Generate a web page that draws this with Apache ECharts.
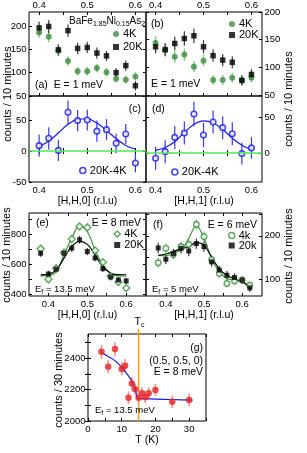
<!DOCTYPE html>
<html><head><meta charset="utf-8">
<script src="https://cdn.jsdelivr.net/npm/echarts@6/dist/echarts.min.js"></script>
<style>html,body{margin:0;padding:0;background:#fff}#c{width:307px;height:453px}</style>
</head><body><div id="c"></div>
<script>
// ---------- data ----------
const H_ab = [0.40,0.42,0.44,0.46,0.48,0.50,0.52,0.54,0.56,0.58,0.60];
const a_4K      = [186,177,147,125,103,103,110,101,87,85,92];
const a_4K_err  = [11,12,11,10,9,9,9,9,8,8,9];
const a_20K     = [196,199,149,190,152,154,142,136,100,115,72];
const a_20K_err = [13,14,12,13,12,12,12,11,10,11,10];
const b_4K      = [144,131,119,123,101,112,77,77,81,77,81];
const b_4K_err  = [12,11,11,11,10,10,9,9,9,9,9];
const b_20K     = [137,132,143,152,157,137,121,113,109,76,87];
const b_20K_err = [12,12,12,13,13,12,11,11,11,9,10];
const c_diff    = [8.6,20.5,1,62.4,49,50,32,34.4,12.4,27.4,-19.4];
const c_err     = [18,18,17,19,17,17,17,17,16,16,15];
const c_fit     = [7,16,29,43,51,52,45,33,20,9,3];
const d_diff    = [-7,2.2,22,28,54.6,25.4,43.5,35.6,27.2,-0.5,7.4];
const d_err     = [16,16,16,16,17,17,16,16,16,15,15];
const d_fit     = [4,8,16,29,40,45,42,33,21,11,5];

const H_e = [0.38,0.40,0.42,0.44,0.46,0.48,0.50,0.52,0.54,0.56,0.58,0.60];
const e_4K      = [702,500,573,677,767,851,844,691,613,520,482,442];
const e_20K     = [673,535,567,673,707,762,684,642,571,515,495,489];
const e_4K_err  = [24,22,22,24,25,26,26,24,23,22,21,20];
const e_20K_err = [24,22,22,24,24,26,24,23,22,22,21,21];
const e_fit4K   = [522,524,551,662,773,855,817,695,595,540,522,520];
const e_fit20K  = [529,532,562,640,718,752,732,662,584,540,531,530];

const H_f = [0.38,0.40,0.42,0.44,0.46,0.48,0.50,0.52,0.54,0.56,0.58,0.60,0.62];
const f_4K      = [138,171,157,175,180,226,198,145,113,90,96,98,86];
const f_20K     = [172,146,159,171,165,182,175,140,121,109,104,98,80];
const f_4K_err  = [11,11,11,11,12,12,12,11,10,9,9,9,9];
const f_20K_err = [12,11,11,12,12,12,12,11,10,10,10,9,9];
const f_fit4K   = [155,154,161,167,194,223,194,148,117,102,98,94,84];
const f_fit20K  = [155,158,164,170,175,184,178,151,124,109,101,94,82];

const T_g   = [4,6,8,10,11,12,13,14,15,16,17,18,20,25,30];
const g_I   = [2442,2346,2459,2332,2353,2149,2240,2202,2149,2177,2151,2177,2198,2123,2134];
const g_err = [45,42,45,42,42,40,40,38,38,38,38,38,40,40,42];
const T_fit = [4,6,8,10,12,13,14,14.6,15,20,25,31];
const g_fit = [2437,2412,2385,2342,2288,2255,2205,2150,2144,2140,2137,2133];
const Tc = [15];

// tick values
const tickH   = [0.4,0.45,0.5,0.55,0.6];
const labH    = [0.4,0.5,0.6];
const tickT   = [0,5,10,15,20,25,30,35];
const labT    = [0,10,20,30];

// ---------- style ----------
const FONT = 'Liberation Sans, Arial, sans-serif';
const G = '#3d8d3d', G_ERR = '#8cc88c', G_LINE = '#3a9a3a';
const K_ERR = '#3a3a3a';
const BLUE = '#1a1aee', BLUE_ERR = '#3a3af5';
const LIME = '#50e850';
const RED = '#e82020', RED_ERR = '#f39595';
const ORANGE = '#ff9a00';

const gridsPos = [
  {left:29, top:11, width:117, height:85},
  {left:146, top:11, width:116, height:85},
  {left:29, top:96, width:117, height:86},
  {left:146, top:96, width:116, height:86},
  {left:29, top:213, width:117, height:83},
  {left:146, top:213, width:116, height:83},
  {left:88, top:334, width:118, height:87}
];
const specs = [
  {x:[0.379,0.622], xt:tickH, xl:labH, top:true, y:[50,230], yt:[50,100,150,200], yl:[50,100,150,200], left:true},
  {x:[0.38,0.622], xt:tickH, xl:labH, top:true, y:[48,200], yt:[50,100,150,200], yl:[50,100,150,200], right:true},
  {x:[0.379,0.622], xt:tickH, xl:labH, bottom:true, name:'[H,H,0] (r.l.u)', y:[-50,88.7], yt:[-50,0,50], yl:[-50,0,50], left:true},
  {x:[0.38,0.622], xt:tickH, xl:labH, bottom:true, name:'[H,H,1] (r.l.u)', y:[-40,79.6], yt:[0,50], yl:[0,50], right:true},
  {x:[0.35,0.651], xt:tickH, xl:labH, bottom:true, name:'[H,H,0] (r.l.u)', y:[389,940], yt:[400,500,600,700,800,900], yl:[400,600,800], left:true},
  {x:[0.348,0.652], xt:tickH, xl:labH, bottom:true, name:'[H,H,1] (r.l.u)', y:[61.4,252.4], yt:[100,150,200,250], yl:[100,200], right:true},
  {x:[0,35], xt:tickT, xl:labT, bottom:true, name:'T (K)', y:[2000,2555], yt:[2000,2100,2200,2300,2400,2500], yl:[2000,2200,2400], left:true}
];
const fmt = v => String(Math.round(v*1000)/1000);

const xAxes = [], yAxes = [];
specs.forEach((s,i)=>{
  ['bottom','top'].forEach(pos=>{
    const show = pos==='bottom' ? !!s.bottom : !!s.top;
    xAxes.push({type:'value', gridIndex:i, position:pos, min:s.x[0], max:s.x[1],
      axisLine:{show:false}, splitLine:{show:false},
      axisTick:{show:true, inside:true, length:3, customValues:s.xt, lineStyle:{color:'#000', width:1}},
      axisLabel:{show:show, customValues:s.xl, formatter:fmt, fontSize:9.5, fontFamily:FONT, color:'#000', margin: pos==='top'?2:3},
      name:(pos==='bottom' && s.name)? s.name : '', nameLocation:'middle', nameGap: i===6?10:13,
      nameTextStyle:{fontSize:10.5, fontFamily:FONT, color:'#000'}});
  });
  ['left','right'].forEach(pos=>{
    const show = pos==='left' ? !!s.left : !!s.right;
    yAxes.push({type:'value', gridIndex:i, position:pos, min:s.y[0], max:s.y[1],
      axisLine:{show:false}, splitLine:{show:false},
      axisTick:{show:true, inside:true, length:3, customValues:s.yt, lineStyle:{color:'#000', width:1}},
      axisLabel:{show:show, customValues:s.yl, formatter:fmt, fontSize:9.5, fontFamily:FONT, color:'#000', margin:2.5}});
  });
});

const series = [];
function errBars(i, xs, ys, es, color, lw){
  series.push({type:'custom', xAxisIndex:2*i, yAxisIndex:2*i, silent:true, z:1,
    data: xs.map((x,k)=>[x, ys[k]-es[k], ys[k]+es[k]]),
    encode:{x:0, y:[1,2]},
    renderItem(p, api){
      const lo = api.coord([api.value(0), api.value(1)]);
      const hi = api.coord([api.value(0), api.value(2)]);
      return {type:'line', shape:{x1:lo[0], y1:lo[1], x2:hi[0], y2:hi[1]}, style:{stroke:color, lineWidth:lw}};
    }});
}
function pts(i, name, xs, ys, symbol, size, itemStyle){
  series.push({type:'scatter', name, xAxisIndex:2*i, yAxisIndex:2*i, silent:true, z:3,
    data: xs.map((x,k)=>[x, ys[k]]), symbol, symbolSize:size, itemStyle});
}
function fit(i, xs, ys, color, extra){
  series.push(Object.assign({type:'line', xAxisIndex:2*i, yAxisIndex:2*i, silent:true, z:2,
    data: xs.map((x,k)=>[x, ys[k]]), smooth:0.4, showSymbol:false, symbol:'none',
    lineStyle:{color, width:1.2}}, extra||{}));
}
const zeroLine = {markLine:{silent:true, symbol:'none', label:{show:false}, animation:false,
  lineStyle:{color:LIME, width:1.5, type:'solid'}, data:[{yAxis:0}]}};

// (a)
errBars(0, H_ab, a_4K, a_4K_err, G_ERR, 1.5);
errBars(0, H_ab, a_20K, a_20K_err, K_ERR, 1.2);
pts(0, '4K', H_ab, a_4K, 'circle', 6, {color:G});
pts(0, '20K', H_ab, a_20K, 'rect', 5.5, {color:'#000'});
// (b)
errBars(1, H_ab, b_4K, b_4K_err, G_ERR, 1.5);
errBars(1, H_ab, b_20K, b_20K_err, K_ERR, 1.2);
pts(1, '4K', H_ab, b_4K, 'circle', 6, {color:G});
pts(1, '20K', H_ab, b_20K, 'rect', 5.5, {color:'#000'});
// (c)
fit(2, H_ab, c_fit, BLUE, zeroLine);
errBars(2, H_ab, c_diff, c_err, BLUE_ERR, 1.2);
pts(2, '20K-4K', H_ab, c_diff, 'circle', 5.5, {color:'#fff', borderColor:BLUE, borderWidth:1.6});
// (d)
fit(3, H_ab, d_fit, BLUE, zeroLine);
errBars(3, H_ab, d_diff, d_err, BLUE_ERR, 1.2);
pts(3, '20K-4K', H_ab, d_diff, 'circle', 5.5, {color:'#fff', borderColor:BLUE, borderWidth:1.6});
// (e)
errBars(4, H_e, e_4K, e_4K_err, G_ERR, 1.5);
errBars(4, H_e, e_20K, e_20K_err, K_ERR, 1.2);
fit(4, H_e, e_fit4K, G_LINE);
fit(4, H_e, e_fit20K, '#000');
pts(4, '4K', H_e, e_4K, 'diamond', 7, {color:'#fff', borderColor:G, borderWidth:1.4});
pts(4, '20K', H_e, e_20K, 'rect', 5, {color:'#000'});
// (f)
errBars(5, H_f, f_4K, f_4K_err, G_ERR, 1.5);
errBars(5, H_f, f_20K, f_20K_err, K_ERR, 1.2);
fit(5, H_f, f_fit4K, G_LINE);
fit(5, H_f, f_fit20K, '#000');
pts(5, '4k', H_f, f_4K, 'circle', 5.5, {color:'#fff', borderColor:G, borderWidth:1.4});
pts(5, '20k', H_f, f_20K, 'rect', 5, {color:'#000'});
// (g)
const gY = specs[6].y;
series.push({type:'custom', xAxisIndex:12, yAxisIndex:12, silent:true, clip:false, z:1,
  data: Tc.map(t=>[t]), encode:{x:0},
  renderItem(p, api){
    const b = api.coord([api.value(0), gY[0]]);
    const t = api.coord([api.value(0), gY[1]]);
    return {type:'group', children:[
      {type:'line', shape:{x1:b[0], y1:b[1], x2:t[0], y2:t[1]-5}, style:{stroke:ORANGE, lineWidth:1.5}},
      {type:'text', x:t[0]+1, y:t[1]-12, style:{text:'T{s|c}', fontSize:10.5, fontFamily:FONT, fill:'#000',
        align:'center', verticalAlign:'middle', lineHeight:13,
        rich:{s:{fontSize:7, lineHeight:7, fontFamily:FONT, fill:'#000', verticalAlign:'bottom'}}}}
    ]};
  }});
errBars(6, T_g, g_I, g_err, RED_ERR, 1.6);
fit(6, T_fit, g_fit, BLUE, {smooth:0.3});
pts(6, 'g', T_g, g_I, 'circle', 6.5, {color:RED});

// ---------- text ----------
const RICH = {
  s:{fontSize:7, lineHeight:7, fontFamily:FONT, fill:'#000', verticalAlign:'bottom'}
};
function txt(x, y, text, o){
  o = o||{};
  return {type:'text', x, y, silent:true, rotation:o.rot||0, z:50,
    style:{text, fontSize:o.size||10.5, fontFamily:FONT, fill:'#000',
      align:o.align||'left', verticalAlign:'middle', lineHeight:o.lh||13, rich:RICH}};
}
const graphic = [
  txt(69, 21, 'BaFe{s|1.85}Ni{s|0.15}As{s|2}', {size:10}),
  txt(35, 85, '(a)  E = 1 meV'),
  txt(151, 24, '(b)'),
  txt(151, 84, 'E = 1 meV'),
  txt(141, 109, '(c)', {align:'right'}),
  txt(152, 109, '(d)'),
  txt(36, 223, '(e)'),
  txt(141, 223, 'E = 8 meV', {align:'right'}),
  txt(35, 289, 'E{s|f} = 13.5 meV', {size:9.5}),
  txt(153, 225, '(f)'),
  txt(257, 225, 'E = 6 meV', {align:'right'}),
  txt(152, 289, 'E{s|f} = 5 meV', {size:9.5}),
  txt(203, 348, '(g)', {align:'right'}),
  txt(203, 361, '(0.5, 0.5, 0)', {align:'right'}),
  txt(203, 372, 'E = 8 meV', {align:'right'}),
  txt(95, 410, 'E{s|f} = 13.5 meV', {size:9.5}),
  txt(8, 94, 'counts / 10 minutes', {align:'center', rot:Math.PI/2, size:11}),
  txt(288.5, 99, 'counts / 10 minutes', {align:'center', rot:Math.PI/2, size:11}),
  txt(7, 255, 'counts / 10 minutes', {align:'center', rot:Math.PI/2, size:11}),
  txt(289, 256, 'counts / 10 minutes', {align:'center', rot:Math.PI/2, size:11}),
  txt(59, 380, 'counts / 30 minutes', {align:'center', rot:Math.PI/2, size:11})
];

function lg(left, top, items, gap){
  return {left, top, orient:'vertical', padding:0, itemGap:gap, itemWidth:6, itemHeight:6,
    selectedMode:false, textStyle:{fontSize:11, lineHeight:11, fontFamily:FONT, color:'#000', padding:[0,0,0,-1]},
    data:items};
}
const legend = [
  lg(113, 28.5, [{name:'4K', icon:'circle', itemStyle:{color:G}}, {name:'20K', icon:'rect', itemStyle:{color:'#000'}}], 2),
  lg(229, 18.5, [{name:'4K', icon:'circle', itemStyle:{color:G}}, {name:'20K', icon:'rect', itemStyle:{color:'#000'}}], 0),
  lg(79, 165, [{name:'20K-4K', icon:'circle', itemStyle:{color:'#fff', borderColor:BLUE, borderWidth:1.6}}], 0),
  lg(171, 166.5, [{name:'20K-4K', icon:'circle', itemStyle:{color:'#fff', borderColor:BLUE, borderWidth:1.6}}], 0),
  lg(113.5, 228.5, [{name:'4K', icon:'diamond', itemStyle:{color:'#fff', borderColor:G, borderWidth:1.4}}, {name:'20K', icon:'rect', itemStyle:{color:'#000'}}], 0),
  lg(228, 230, [{name:'4k', icon:'circle', itemStyle:{color:'#fff', borderColor:G, borderWidth:1.4}}, {name:'20k', icon:'rect', itemStyle:{color:'#000'}}], -1)
];

const chart = echarts.init(document.getElementById('c'), null, {renderer:'canvas'});
chart.setOption({
  animation:false,
  backgroundColor:'#fff',
  grid: gridsPos.map(g=>Object.assign({show:true, borderColor:'#000', borderWidth:1, backgroundColor:'transparent', containLabel:false}, g)),
  xAxis: xAxes, yAxis: yAxes, series, legend, graphic
});
</script></body></html>
